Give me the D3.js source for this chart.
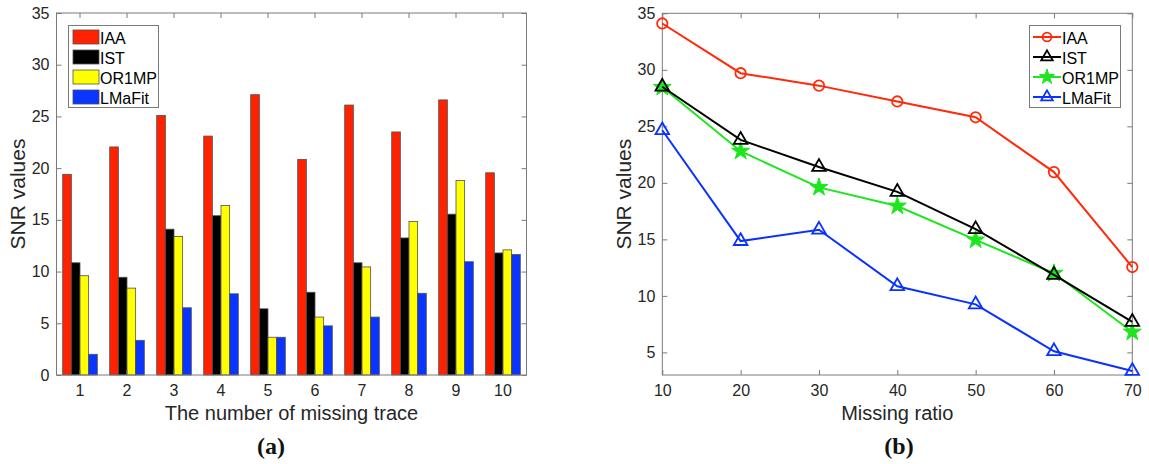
<!DOCTYPE html>
<html><head><meta charset="utf-8">
<script src="https://cdn.jsdelivr.net/npm/d3@7/dist/d3.min.js"></script>
<style>
body{margin:0;background:#fff;}
svg text{font-family:"Liberation Sans",Arial,sans-serif;}
</style></head>
<body><svg id="c" width="1149" height="464"></svg>
<script>
// ---- data ----
const series = ["IAA","IST","OR1MP","LMaFit"];
const traceCats = [1,2,3,4,5,6,7,8,9,10];
const barIAA    = [19.4,22.05,25.1,23.1,27.1,20.85,26.1,23.5,26.6,19.55];
const barIST    = [10.85,9.45,14.1,15.4,6.4,8.0,10.85,13.25,15.55,11.8];
const barOR1MP  = [9.6,8.4,13.4,16.4,3.65,5.6,10.45,14.85,18.8,12.1];
const barLMaFit = [2.0,3.35,6.5,7.85,3.65,4.75,5.6,7.9,10.95,11.65];
const yTicksA = [0,5,10,15,20,25,30,35];

const missRatio = [10,20,30,40,50,60,70];
const lineIAA    = [34.1,29.7,28.6,27.2,25.8,20.95,12.55];
const lineIST    = [28.5,23.8,21.4,19.2,15.9,11.85,7.7];
const lineOR1MP  = [28.45,22.8,19.6,17.95,14.95,12.0,6.8];
const lineLMaFit = [24.65,14.85,15.85,10.85,9.25,5.1,3.35];
const yTicksB = [5,10,15,20,25,30,35];

const barColors = ["#ff2200","#000000","#ffff00","#0a34ff"];
const lineColors = ["#ff2a0a","#000000","#1ee61e","#0a32ff"];

const svg = d3.select("#c");
const axisCol = "#7a7a7a", textCol = "#262626";

function styleAxis(g){
  g.selectAll("path,line").attr("stroke",axisCol);
  g.selectAll("text").attr("fill",textCol).style("font-size","16px");
}

// ================= Chart (a) =================
const A = {l:56.5, r:526.5, t:13, b:375};
const xA = d3.scaleBand().domain(traceCats).range([A.l,A.r]).paddingInner(0.264).paddingOuter(0.132);
const xInner = d3.scaleBand().domain(series).range([0,xA.bandwidth()]);
const yA = d3.scaleLinear().domain([0,35]).range([A.b,A.t]);
const barData = [barIAA,barIST,barOR1MP,barLMaFit];

const gA = svg.append("g");
traceCats.forEach((c,i)=>{
  series.forEach((s,j)=>{
    const v = barData[j][i];
    gA.append("rect")
      .attr("x", xA(c)+xInner(s))
      .attr("y", yA(v))
      .attr("width", xInner.bandwidth())
      .attr("height", yA(0)-yA(v))
      .attr("fill", barColors[j])
      .attr("stroke","#505050").attr("stroke-width",0.8);
  });
});
gA.append("g").attr("transform",`translate(0,${A.b})`)
  .call(d3.axisBottom(xA).tickSizeInner(-5).tickSizeOuter(0).tickPadding(10)).call(styleAxis);
gA.append("g").attr("transform",`translate(0,${A.t})`)
  .call(d3.axisTop(xA).tickSizeInner(-5).tickSizeOuter(0).tickFormat("")).call(styleAxis);
gA.append("g").attr("transform",`translate(${A.l},0)`)
  .call(d3.axisLeft(yA).tickValues(yTicksA).tickSizeInner(-5).tickSizeOuter(0).tickPadding(7)).call(styleAxis);
gA.append("g").attr("transform",`translate(${A.r},0)`)
  .call(d3.axisRight(yA).tickValues(yTicksA).tickSizeInner(-5).tickSizeOuter(0).tickFormat("")).call(styleAxis);
gA.selectAll(".domain").remove();
gA.append("rect").attr("x",A.l).attr("y",A.t).attr("width",A.r-A.l).attr("height",A.b-A.t)
  .attr("fill","none").attr("stroke",axisCol);
gA.append("text").attr("transform",`translate(17,${(A.t+A.b)/2}) rotate(-90)`)
  .attr("text-anchor","middle").attr("dominant-baseline","central")
  .style("font-size","21px").attr("fill",textCol).text("SNR values");
gA.append("text").attr("x",(A.l+A.r)/2).attr("y",420).attr("text-anchor","middle")
  .style("font-size","20px").attr("fill",textCol).text("The number of missing trace");
gA.append("text").attr("x",271).attr("y",454).attr("text-anchor","middle")
  .style("font-family","'Liberation Serif','Times New Roman',serif").style("font-weight","bold")
  .style("font-size","24px").attr("fill","#111").text("(a)");
const legA = gA.append("g");
legA.append("rect").attr("x",68.5).attr("y",25.5).attr("width",90).attr("height",82)
  .attr("fill","#fff").attr("stroke",axisCol);
series.forEach((s,j)=>{
  const cy = 37+20*j;
  legA.append("rect").attr("x",73).attr("y",cy-7).attr("width",26).attr("height",14)
    .attr("fill",barColors[j]).attr("stroke","#505050").attr("stroke-width",0.8);
  legA.append("text").attr("x",100).attr("y",cy+1).attr("dominant-baseline","central")
    .style("font-size","16px").attr("fill","#000").text(s);
});

// ================= Chart (b) =================
const B = {l:662.3, r:1132.3, t:13.3, b:375};
const xB = d3.scaleLinear().domain([10,70]).range([B.l,B.r]);
const yB = d3.scaleLinear().domain([3,35]).range([B.b,B.t]);
const lineData = [lineIAA,lineIST,lineOR1MP,lineLMaFit];
const markers = ["circle","triangle","star","triangle"];
const gB = svg.append("g");
gB.append("g").attr("transform",`translate(0,${B.b})`)
  .call(d3.axisBottom(xB).tickValues(missRatio).tickSizeInner(-5).tickSizeOuter(0).tickPadding(10)).call(styleAxis);
gB.append("g").attr("transform",`translate(0,${B.t})`)
  .call(d3.axisTop(xB).tickValues(missRatio).tickSizeInner(-5).tickSizeOuter(0).tickFormat("")).call(styleAxis);
gB.append("g").attr("transform",`translate(${B.l},0)`)
  .call(d3.axisLeft(yB).tickValues(yTicksB).tickSizeInner(-5).tickSizeOuter(0).tickPadding(7)).call(styleAxis);
gB.append("g").attr("transform",`translate(${B.r},0)`)
  .call(d3.axisRight(yB).tickValues(yTicksB).tickSizeInner(-5).tickSizeOuter(0).tickFormat("")).call(styleAxis);
gB.selectAll(".domain").remove();
gB.append("rect").attr("x",B.l).attr("y",B.t).attr("width",B.r-B.l).attr("height",B.b-B.t)
  .attr("fill","none").attr("stroke",axisCol);

function drawMarker(g,type,x,y,col,scale){
  const k = scale||1;
  if(type==="circle"){
    g.append("circle").attr("cx",x).attr("cy",y).attr("r",5.2*k)
      .attr("fill","none").attr("stroke",col).attr("stroke-width",1.8);
  } else if(type==="triangle"){
    g.append("path").attr("d",d3.symbol().type(d3.symbolTriangle).size(80*k*k)())
      .attr("transform",`translate(${x},${y})`)
      .attr("fill","none").attr("stroke",col).attr("stroke-width",1.8);
  } else {
    g.append("path").attr("d",d3.symbol().type(d3.symbolStar).size(100*k*k)())
      .attr("transform",`translate(${x},${y})`)
      .attr("fill",col).attr("stroke",col).attr("stroke-width",1);
  }
}
const line = d3.line().x((d,i)=>xB(missRatio[i])).y(d=>yB(d));
const plot = gB.append("g");
[3,0,2,1].forEach(j=>{
  plot.append("path").datum(lineData[j]).attr("d",line)
    .attr("fill","none").attr("stroke",lineColors[j]).attr("stroke-width",2);
  lineData[j].forEach((v,i)=>drawMarker(plot,markers[j],xB(missRatio[i]),yB(v),lineColors[j]));
});
gB.append("text").attr("transform",`translate(623,${(B.t+B.b)/2}) rotate(-90)`)
  .attr("text-anchor","middle").attr("dominant-baseline","central")
  .style("font-size","21px").attr("fill",textCol).text("SNR values");
gB.append("text").attr("x",(B.l+B.r)/2).attr("y",420).attr("text-anchor","middle")
  .style("font-size","20px").attr("fill",textCol).text("Missing ratio");
gB.append("text").attr("x",899).attr("y",454).attr("text-anchor","middle")
  .style("font-family","'Liberation Serif','Times New Roman',serif").style("font-weight","bold")
  .style("font-size","24px").attr("fill","#111").text("(b)");
const legB = gB.append("g");
legB.append("rect").attr("x",1029.5).attr("y",25.5).attr("width",91).attr("height",82)
  .attr("fill","#fff").attr("stroke",axisCol);
series.forEach((s,j)=>{
  const cy = 37+20*j;
  legB.append("line").attr("x1",1033).attr("x2",1061).attr("y1",cy).attr("y2",cy)
    .attr("stroke",lineColors[j]).attr("stroke-width",2);
  drawMarker(legB,markers[j],1047,cy,lineColors[j],0.85);
  legB.append("text").attr("x",1062).attr("y",cy+1).attr("dominant-baseline","central")
    .style("font-size","16px").attr("fill","#000").text(s);
});
</script></body></html>
